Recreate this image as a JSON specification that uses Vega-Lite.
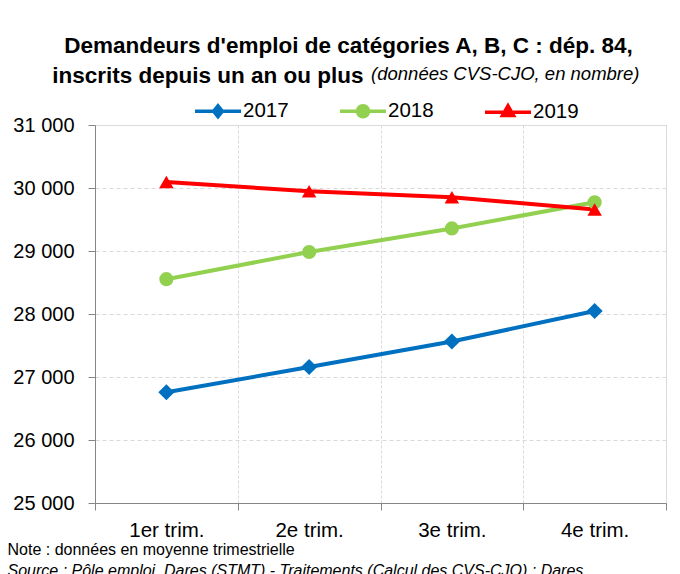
{
  "$schema": "https://vega.github.io/schema/vega-lite/v6.json",
  "autosize": "none",
  "padding": {"left": 95, "top": 125, "right": 14, "bottom": 71},
  "width": 571,
  "height": 378,
  "background": "white",
  "title": {
    "text": ["Demandeurs d'emploi de catégories A, B, C : dép. 84,", "inscrits depuis un an ou plus\u00a0\u00a0\u00a0\u00a0\u00a0\u00a0\u00a0\u00a0\u00a0\u00a0\u00a0\u00a0\u00a0\u00a0\u00a0\u00a0\u00a0\u00a0\u00a0\u00a0\u00a0\u00a0\u00a0\u00a0\u00a0\u00a0\u00a0\u00a0\u00a0\u00a0\u00a0\u00a0\u00a0\u00a0\u00a0\u00a0\u00a0\u00a0\u00a0\u00a0\u00a0\u00a0\u00a0\u00a0\u00a0\u200b"],
    "subtitle": "\u200b\u00a0\u00a0\u00a0\u00a0\u00a0\u00a0\u00a0\u00a0\u00a0\u00a0\u00a0\u00a0\u00a0\u00a0\u00a0\u00a0\u00a0\u00a0\u00a0\u00a0\u00a0\u00a0\u00a0\u00a0\u00a0\u00a0\u00a0\u00a0\u00a0\u00a0\u00a0\u00a0\u00a0\u00a0\u00a0\u00a0\u00a0\u00a0\u00a0\u00a0\u00a0\u00a0\u00a0\u00a0\u00a0\u00a0\u00a0\u00a0\u00a0\u00a0\u00a0\u00a0\u00a0\u00a0\u00a0\u00a0\u00a0\u00a0\u00a0\u00a0\u00a0(données CVS-CJO, en nombre)",
    "anchor": "middle",
    "dx": -32,
    "font": "Liberation Sans",
    "fontSize": 22.5,
    "fontWeight": "bold",
    "color": "black",
    "lineHeight": 30,
    "subtitleFont": "Liberation Sans",
    "subtitleFontSize": 18.5,
    "subtitleFontStyle": "italic",
    "subtitleFontWeight": "normal",
    "subtitleColor": "black",
    "subtitlePadding": -22,
    "offset": -1
  },
  "data": {
    "values": [
      {"trim": "1er trim.", "year": "2017", "value": 26758},
      {"trim": "2e trim.", "year": "2017", "value": 27158},
      {"trim": "3e trim.", "year": "2017", "value": 27563},
      {"trim": "4e trim.", "year": "2017", "value": 28047},
      {"trim": "1er trim.", "year": "2018", "value": 28553},
      {"trim": "2e trim.", "year": "2018", "value": 28984},
      {"trim": "3e trim.", "year": "2018", "value": 29358},
      {"trim": "4e trim.", "year": "2018", "value": 29774},
      {"trim": "1er trim.", "year": "2019", "value": 30095},
      {"trim": "2e trim.", "year": "2019", "value": 29947},
      {"trim": "3e trim.", "year": "2019", "value": 29853},
      {"trim": "4e trim.", "year": "2019", "value": 29658}
    ]
  },
  "encoding": {
    "x": {
      "field": "trim",
      "type": "ordinal",
      "sort": ["1er trim.", "2e trim.", "3e trim.", "4e trim."],
      "scale": {"type": "band", "paddingInner": 0, "paddingOuter": 0},
      "axis": {
        "title": "Note : données en moyenne trimestrielle",
        "titleFont": "Liberation Sans",
        "titleFontSize": 16,
        "titleFontWeight": "normal",
        "titleColor": "black",
        "titleAnchor": "start",
        "titleAlign": "left",
        "titleBaseline": "top",
        "titleX": -88,
        "titleY": 38,
        "labelAngle": 0,
        "labelFont": "Liberation Sans",
        "labelFontSize": 20.5,
        "labelColor": "black",
        "labelPadding": 10,
        "tickBand": "extent",
        "tickSize": 7,
        "tickColor": "#868686",
        "domainColor": "#868686",
        "grid": true,
        "gridColor": "#D9D9D9",
        "gridDash": [3, 2]
      }
    },
    "y": {
      "field": "value",
      "type": "quantitative",
      "scale": {"domain": [25000, 31000], "nice": false, "zero": false},
      "axis": {
        "values": [25000, 26000, 27000, 28000, 29000, 30000, 31000],
        "labelExpr": "replace(format(datum.value, ','), ',', ' ')",
        "labelFont": "Liberation Sans",
        "labelFontSize": 20,
        "labelColor": "black",
        "labelPadding": 14,
        "tickSize": 7,
        "tickColor": "#868686",
        "domainColor": "#868686",
        "gridColor": "#D9D9D9",
        "gridDash": [4, 3],
        "title": "Source : Pôle emploi, Dares (STMT) - Traitements (Calcul des CVS-CJO) : Dares",
        "titleFont": "Liberation Sans",
        "titleFontSize": 16,
        "titleFontWeight": "normal",
        "titleFontStyle": "italic",
        "titleColor": "black",
        "titleAngle": 0,
        "titleAlign": "left",
        "titleBaseline": "top",
        "titleX": -88,
        "titleY": 437
      }
    },
    "color": {
      "field": "year",
      "type": "nominal",
      "scale": {"domain": ["2017", "2018", "2019"], "range": ["#0070C0", "#92D050", "#FF0000"]},
      "legend": {
        "orient": "none",
        "legendX": 98,
        "legendY": -39,
        "direction": "horizontal",
        "title": null,
        "symbolSize": 2116,
        "symbolStrokeWidth": 3.5,
        "labelFont": "Liberation Sans",
        "labelFontSize": 20.5,
        "labelColor": "black",
        "labelOffset": 0,
        "columnPadding": 44,
        "encode": {
          "symbols": {
            "update": {
              "shape": {"signal": "datum.label == '2017' ? 'M-1,0H1M0,-0.24L0.19,0L0,0.24L-0.19,0Z' : datum.label == '2018' ? 'M-1,0H1M-0.24,0A0.24,0.24 0 1,1 0.24,0A0.24,0.24 0 1,1 -0.24,0Z' : 'M-1,0H1M0,-0.28L0.24,0.14L-0.24,0.14Z'"},
              "size": {"value": 2116},
              "fill": {"signal": "scale('color', datum.value)"},
              "stroke": {"signal": "scale('color', datum.value)"},
              "strokeWidth": {"value": 3.5},
              "opacity": {"value": 1}
            }
          }
        }
      }
    }
  },
  "layer": [
    {"mark": {"type": "line", "strokeWidth": 4}},
    {
      "transform": [{"filter": "datum.year == '2017'"}],
      "mark": {"type": "point", "filled": true, "opacity": 1, "shape": "diamond", "size": 260}
    },
    {
      "transform": [{"filter": "datum.year == '2018'"}],
      "mark": {"type": "point", "filled": true, "opacity": 1, "shape": "circle", "size": 200}
    },
    {
      "transform": [{"filter": "datum.year == '2019'"}],
      "mark": {"type": "point", "filled": true, "opacity": 1, "shape": "triangle-up", "size": 210}
    }
  ]
}
